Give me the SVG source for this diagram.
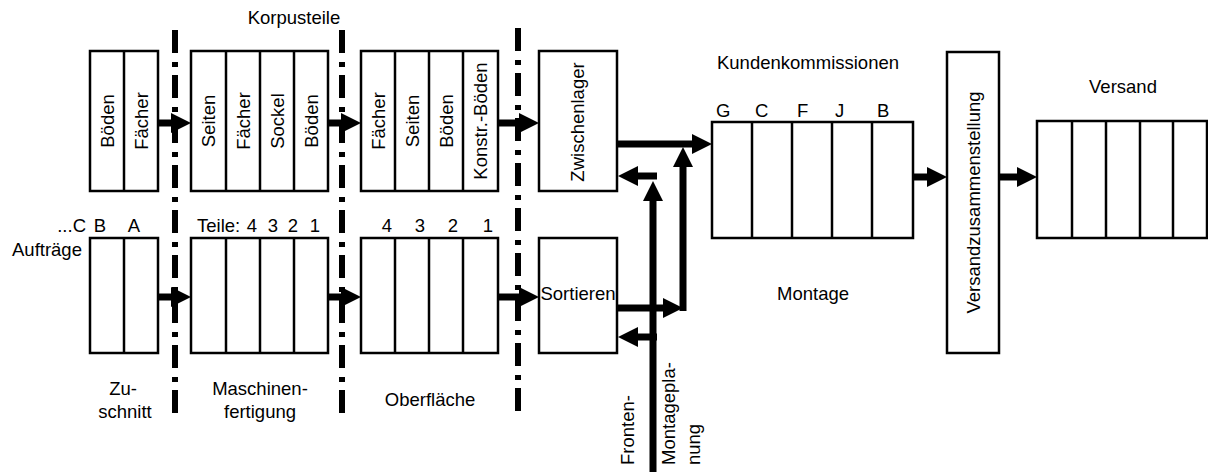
<svg xmlns="http://www.w3.org/2000/svg" width="1208" height="472" viewBox="0 0 1208 472">
<style>
.box{fill:#fff;stroke:#000;stroke-width:2.5}
.dv{stroke:#000;stroke-width:2.5}
.sep{stroke:#000;stroke-width:6;stroke-dasharray:23 9 5 8;fill:none}
.arr{stroke:#000;stroke-width:7;fill:none;marker-end:url(#ah)}
.bar{stroke:#000;stroke-width:7;fill:none}
text{font-family:"Liberation Sans",Arial,Helvetica,sans-serif;font-size:18.5px;fill:#000}
.c{text-anchor:middle}
.e{text-anchor:end}
</style>
<defs>
<marker id="ah" markerUnits="userSpaceOnUse" markerWidth="20" markerHeight="20" viewBox="0 0 20 20" refX="1" refY="10" orient="auto"><path d="M0,0 L20,10 L0,20 z" fill="#000"/></marker>
</defs>
<rect width="1208" height="472" fill="#fff"/>

<g id="separators">
<line class="sep" x1="175" y1="30" x2="175" y2="413"/>
<line class="sep" x1="342" y1="30" x2="342" y2="413"/>
<line class="sep" x1="518" y1="28" x2="518" y2="411"/>
</g>

<g id="connectors">
<path class="arr" d="M158,123 H172"/>
<path class="arr" d="M328,123 H342"/>
<path class="arr" d="M498,123 H520"/>
<path class="arr" d="M158,297 H172"/>
<path class="arr" d="M328,297 H342"/>
<path class="arr" d="M498,297 H520"/>
<path class="arr" d="M617,144 H693"/>
<path class="arr" d="M617,308 H664"/>
<path class="arr" d="M683,311 V166"/>
<path class="arr" d="M653,472 V200"/>
<path class="arr" d="M657,176 H637"/>
<path class="arr" d="M657,337 H637"/>
<path class="arr" d="M913,177 H928"/>
<path class="arr" d="M999,177 H1018"/>
</g>

<g id="zuschnitt-teile">
<rect class="box" x="90" y="51" width="68" height="140"/>
<line class="dv" x1="124" y1="51" x2="124" y2="191"/>
<text class="c" transform="translate(113.5,121) rotate(-90)">Böden</text>
<text class="c" transform="translate(147.5,121) rotate(-90)">Fächer</text>
</g>
<g id="maschinen-teile">
<rect class="box" x="191" y="51" width="137" height="140"/>
<line class="dv" x1="226" y1="51" x2="226" y2="191"/>
<line class="dv" x1="260" y1="51" x2="260" y2="191"/>
<line class="dv" x1="294" y1="51" x2="294" y2="191"/>
<text class="c" transform="translate(215,121) rotate(-90)">Seiten</text>
<text class="c" transform="translate(249.5,121) rotate(-90)">Fächer</text>
<text class="c" transform="translate(283.5,121) rotate(-90)">Sockel</text>
<text class="c" transform="translate(317.5,121) rotate(-90)">Böden</text>
</g>
<g id="oberflaeche-teile">
<rect class="box" x="361" y="51" width="137" height="140"/>
<line class="dv" x1="395" y1="51" x2="395" y2="191"/>
<line class="dv" x1="429" y1="51" x2="429" y2="191"/>
<line class="dv" x1="463" y1="51" x2="463" y2="191"/>
<text class="c" transform="translate(384.5,121) rotate(-90)">Fächer</text>
<text class="c" transform="translate(418.5,121) rotate(-90)">Seiten</text>
<text class="c" transform="translate(452.5,121) rotate(-90)">Böden</text>
<text class="c" transform="translate(487,121) rotate(-90)">Konstr.-Böden</text>
</g>
<g id="zwischenlager">
<rect class="box" x="539" y="51" width="78" height="140"/>
<text class="c" transform="translate(584,122) rotate(-90)">Zwischenlager</text>
</g>

<g id="zuschnitt-auftraege">
<rect class="box" x="90" y="238" width="68" height="115"/>
<line class="dv" x1="124" y1="238" x2="124" y2="353"/>
</g>
<g id="maschinen-auftraege">
<rect class="box" x="191" y="238" width="137" height="115"/>
<line class="dv" x1="226" y1="238" x2="226" y2="353"/>
<line class="dv" x1="260" y1="238" x2="260" y2="353"/>
<line class="dv" x1="294" y1="238" x2="294" y2="353"/>
</g>
<g id="oberflaeche-auftraege">
<rect class="box" x="361" y="238" width="137" height="115"/>
<line class="dv" x1="395" y1="238" x2="395" y2="353"/>
<line class="dv" x1="429" y1="238" x2="429" y2="353"/>
<line class="dv" x1="463" y1="238" x2="463" y2="353"/>
</g>
<g id="sortieren">
<rect class="box" x="539" y="238" width="78" height="115"/>
<text class="c" x="578" y="300">Sortieren</text>
</g>

<g id="montage">
<rect class="box" x="712" y="122" width="201" height="116"/>
<line class="dv" x1="752" y1="122" x2="752" y2="238"/>
<line class="dv" x1="792" y1="122" x2="792" y2="238"/>
<line class="dv" x1="832" y1="122" x2="832" y2="238"/>
<line class="dv" x1="872" y1="122" x2="872" y2="238"/>
<text x="716" y="117">G</text>
<text x="755" y="117">C</text>
<text x="797" y="117">F</text>
<text x="835" y="117">J</text>
<text x="877" y="117">B</text>
<text class="c" x="808" y="69">Kundenkommissionen</text>
<text class="c" x="813" y="300">Montage</text>
</g>

<g id="versandzusammenstellung">
<rect class="box" x="947" y="52" width="52" height="301"/>
<text class="c" transform="translate(979.5,202.5) rotate(-90)">Versandzusammenstellung</text>
</g>

<g id="versand">
<rect class="box" x="1037" y="121" width="170" height="117"/>
<line class="dv" x1="1072" y1="121" x2="1072" y2="238"/>
<line class="dv" x1="1106" y1="121" x2="1106" y2="238"/>
<line class="dv" x1="1140" y1="121" x2="1140" y2="238"/>
<line class="dv" x1="1173" y1="121" x2="1173" y2="238"/>
<text class="c" x="1123" y="93">Versand</text>
</g>

<g id="labels">
<text class="c" x="294" y="24">Korpusteile</text>
<text class="e" x="86" y="232">...C</text>
<text class="c" x="100" y="232">B</text>
<text class="c" x="134" y="232">A</text>
<text x="12" y="256">Aufträge</text>
<text x="197" y="232">Teile:</text>
<text class="c" x="252" y="232">4</text>
<text class="c" x="273" y="232">3</text>
<text class="c" x="293" y="232">2</text>
<text class="c" x="315" y="232">1</text>
<text class="c" x="387" y="232">4</text>
<text class="c" x="420" y="232">3</text>
<text class="c" x="453" y="232">2</text>
<text class="c" x="488" y="232">1</text>
<text class="c" x="123" y="395">Zu-</text>
<text class="c" x="125" y="418">schnitt</text>
<text class="c" x="260" y="395">Maschinen-</text>
<text class="c" x="260" y="418">fertigung</text>
<text class="c" x="430" y="406">Oberfläche</text>
<text transform="translate(634,465) rotate(-90)">Fronten-</text>
<text transform="translate(675,465) rotate(-90)">Montagepla-</text>
<text transform="translate(700,465) rotate(-90)">nung</text>
</g>
</svg>
